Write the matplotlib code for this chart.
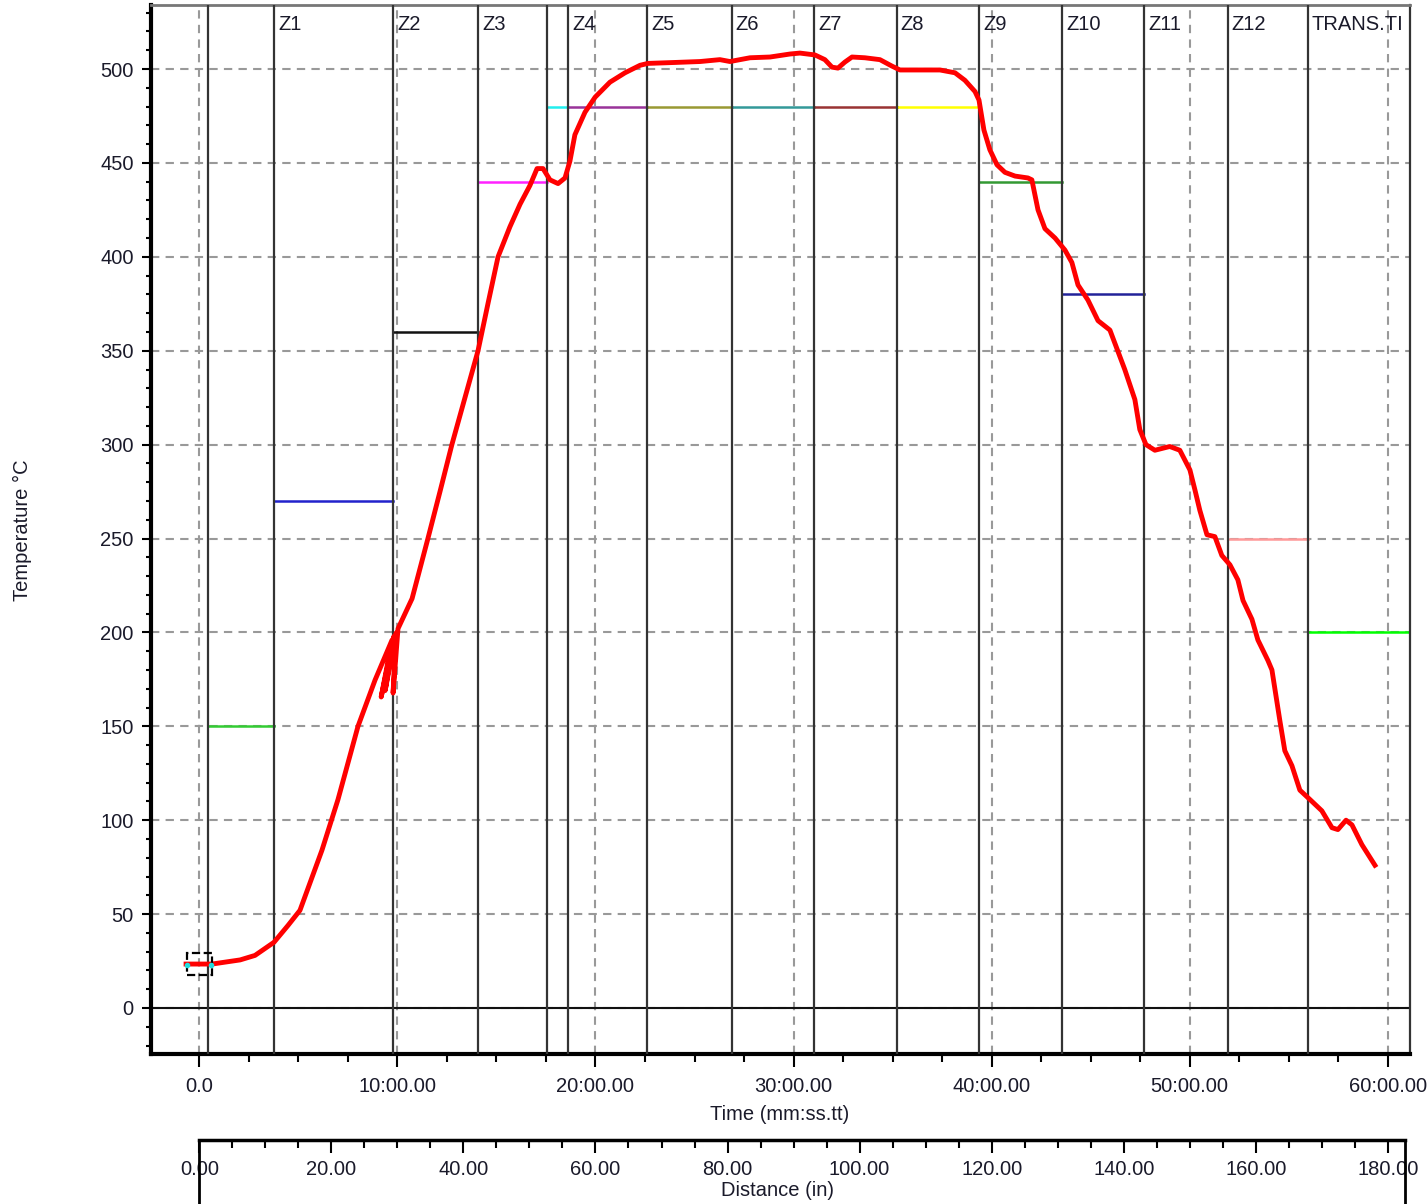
import numpy as np
import matplotlib
matplotlib.use("Agg")
import matplotlib.pyplot as plt
from matplotlib.ticker import MultipleLocator, FuncFormatter
from matplotlib.patches import Rectangle

plt.rcParams['font.family'] = ['Liberation Sans', 'DejaVu Sans']

# temperature profile (time in minutes, temperature in deg C)
time_min = [-0.67, 0.64, 2.06, 2.81, 3.77, 4.48, 5.08, 6.19, 7.00, 8.01, 8.87,
            9.73, 9.18, 9.83, 9.38, 9.93, 9.78, 10.03, 10.74, 11.54, 12.15, 12.75,
            13.41, 14.07, 14.57, 15.08, 15.68, 16.19, 16.69, 17.05, 17.35, 17.70,
            18.11, 18.46, 18.71, 18.96, 19.47, 19.98, 20.73, 21.49, 22.25, 22.65,
            24.01, 25.28, 26.28, 26.79, 27.80, 28.81, 29.82, 30.32, 31.08, 31.58,
            31.94, 32.24, 32.59, 32.95, 33.60, 34.36, 34.96, 35.37, 37.39, 38.15,
            38.65, 39.16, 39.36, 39.61, 39.91, 40.27, 40.67, 41.18, 41.83, 42.03,
            42.34, 42.69, 43.20, 43.70, 44.05, 44.36, 44.86, 45.37, 45.97, 46.72,
            47.23, 47.48, 47.79, 48.24, 48.99, 49.50, 50.01, 50.26, 50.51, 50.87,
            51.27, 51.62, 52.03, 52.43, 52.69, 53.14, 53.44, 53.95, 54.15, 54.55,
            54.80, 55.16, 55.56, 56.07, 56.67, 57.18, 57.48, 57.89, 58.19, 58.69,
            59.35]
temp_c = [23.4, 23.4, 25.6, 28, 35, 44, 52, 84, 111, 150, 174.6,
          196, 165.6, 198, 169, 199.7, 167.7, 202, 218, 250, 275, 300,
          325, 350, 375, 400, 416, 428, 438, 447, 447, 441,
          439, 442, 451, 465, 477, 485, 493, 498, 502, 503,
          503.5, 504, 505, 504, 506, 506.4, 508, 508.5, 507.5, 505,
          501, 500.5, 503.7, 506.4, 506, 505, 501.6, 499.5, 499.5, 498,
          494, 488, 483.5, 467.5, 457, 449, 445, 443, 442, 441,
          425, 415, 410, 403.6, 397, 385, 377, 366, 361, 340,
          324, 308, 300, 297, 299, 297, 286.5, 276, 265, 252,
          251, 241, 236, 228, 217, 207, 196, 185, 180, 153,
          137, 129, 116, 111, 105, 96, 95, 100, 97.5, 87,
          76]

# oven zones: boundaries (min), labels, setpoints
zone_edges = [0.42, 3.77, 9.79, 14.07, 17.54, 18.63, 22.61, 26.88, 31.03,
              35.20, 39.36, 43.55, 47.69, 51.91, 55.95, 61.12]
zone_labels = ['', 'Z1', 'Z2', 'Z3', '', 'Z4', 'Z5', 'Z6', 'Z7', 'Z8',
               'Z9', 'Z10', 'Z11', 'Z12', 'TRANS.TI']
setpoints = [150, 270, 360, 440, 480, 480, 480, 480, 480, 480,
             440, 380, np.nan, 250, 200]
setpoint_colors = ['#33cc33', '#2222cc', '#111111', '#ff22ff', '#22eeee',
                   '#993399', '#999933', '#339999', '#993333', '#ffff00',
                   '#339933', '#222299', '#ffffff', '#ff9999', '#00ff00']

time_ticks = [0, 10, 20, 30, 40, 50, 60]
dist_ticks = [0, 20, 40, 60, 80, 100, 120, 140, 160, 180]

W, H = 1428, 1204
fig = plt.figure(figsize=(W / 100, H / 100), dpi=100)
ax = fig.add_axes([151 / W, 1 - 1054 / H, (1410 - 151) / W, (1054 - 5) / H])

ax.set_xlim(-2.44, 61.12)
ax.set_ylim(-24.5, 534.1)

txt = '#1a1a2a'
fs = 14.5

# grid
ax.grid(True, which='major', color='#999999', linestyle=(0, (4, 3)), linewidth=1.5)
ax.set_axisbelow(True)
ax.axhline(0, color='#111111', lw=1.5, zorder=2)

# setpoint lines
for i in range(len(setpoints)):
    if not np.isnan(setpoints[i]):
        ax.plot([zone_edges[i], zone_edges[i + 1]], [setpoints[i], setpoints[i]],
                color=setpoint_colors[i], lw=1.8, zorder=1.2)

# zone boundaries and labels
for i in range(len(zone_edges) - 1):
    ax.axvline(zone_edges[i], color='#333333', lw=1.6, zorder=3)
    if zone_labels[i]:
        ax.text(zone_edges[i] + 0.2, 529, zone_labels[i], fontsize=fs, color=txt,
                ha='left', va='top', clip_on=True, zorder=4)

# profile
ax.plot(time_min, temp_c, color='red', lw=3.5, zorder=5)

# start marker
ax.add_patch(Rectangle((-0.63, 17.6), 1.27, 11.7, fill=False, ec='black',
                       lw=1.6, ls='--', zorder=6))
ax.plot([-0.63, 0.59], [22.9, 22.9], ls='none', marker='o', ms=3,
        color='#22dddd', zorder=7)

# axes styling
ax.xaxis.set_major_locator(MultipleLocator(10))
ax.xaxis.set_minor_locator(MultipleLocator(2.5))
ax.set_xticks(time_ticks)
ax.xaxis.set_major_formatter(FuncFormatter(lambda v, p: '0.0' if v == 0 else '%d:00.00' % v))
ax.yaxis.set_major_locator(MultipleLocator(50))
ax.yaxis.set_minor_locator(MultipleLocator(10))
ax.tick_params(axis='x', which='major', length=9.5, width=1.5, pad=7, labelsize=fs, labelcolor=txt)
ax.tick_params(axis='x', which='minor', length=5.5, width=1.5)
ax.tick_params(axis='y', which='major', length=6.5, width=1.5, pad=6, labelsize=fs, labelcolor=txt)
ax.tick_params(axis='y', which='minor', length=3.5, width=1.5)
ax.spines['left'].set_linewidth(3)
ax.spines['bottom'].set_linewidth(3)
ax.spines['top'].set_color('#777777')
ax.spines['top'].set_linewidth(2)
ax.spines['right'].set_color('#333333')
ax.spines['right'].set_linewidth(1.6)

fig.text(22 / W, 1 - 530 / H, 'Temperature °C', rotation=90, fontsize=fs,
         color=txt, ha='center', va='center')
fig.text(780 / W, 1 - 1115 / H, 'Time (mm:ss.tt)', fontsize=fs, color=txt,
         ha='center', va='center')

# distance axis
ax2 = fig.add_axes([199.3 / W, 0, (1405 - 199.3) / W, 1 - 1140 / H])
ax2.set_xlim(0, 182.6)
ax2.set_ylim(0, 1)
ax2.set_yticks([])
ax2.set_xticks(dist_ticks)
ax2.xaxis.set_minor_locator(MultipleLocator(5))
ax2.xaxis.set_major_formatter(FuncFormatter(lambda v, p: '%.2f' % v))
ax2.tick_params(axis='x', which='both', top=True, bottom=False, labeltop=False,
                labelbottom=True, direction='in', width=1.5, pad=-31.5,
                labelsize=fs, labelcolor=txt)
ax2.tick_params(axis='x', which='major', length=9.5)
ax2.tick_params(axis='x', which='minor', length=5.5)
ax2.spines['bottom'].set_visible(False)
ax2.spines['top'].set_linewidth(2.5)
ax2.spines['left'].set_linewidth(2)
ax2.spines['right'].set_linewidth(2)
ax2.patch.set_alpha(0)

fig.text(778 / W, 1 - 1190 / H, 'Distance (in)', fontsize=fs, color=txt,
         ha='center', va='center')

fig.savefig('out.png', dpi=100)
